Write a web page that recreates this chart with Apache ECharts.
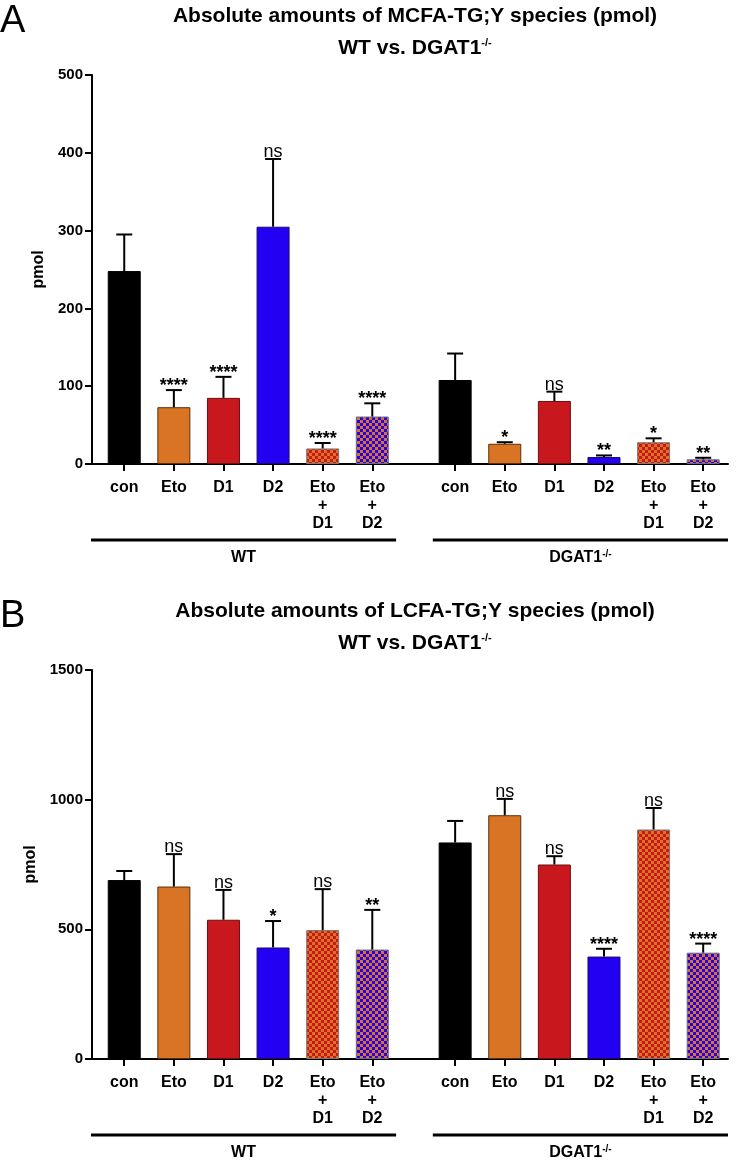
<!DOCTYPE html>
<html><head><meta charset="utf-8">
<script src="https://cdn.jsdelivr.net/npm/echarts@6/dist/echarts.min.js"></script>
<style>html,body{margin:0;padding:0;background:#fff}#c{width:738px;height:1164px}</style>
</head><body><div id="c"></div>
<script>
// ---- data ----
const categories = ['con', 'Eto', 'D1', 'D2', 'Eto\n+\nD1', 'Eto\n+\nD2'];
const groupLabels = ['WT', 'DGAT1'];
// Panel A: MCFA-TG;Y (pmol)
const mcfaWT = [248, 73, 85, 305, 20, 61];
const mcfaWTErr = [295, 95, 112, 392, 27, 78];
const mcfaWTSig = ['', '****', '****', 'ns', '****', '****'];
const mcfaKO = [108, 26, 81, 9, 28, 6];
const mcfaKOErr = [142, 28, 93, 11, 33, 8];
const mcfaKOSig = ['', '*', 'ns', '**', '*', '**'];
// Panel B: LCFA-TG;Y (pmol)
const lcfaWT = [690, 665, 537, 430, 497, 422];
const lcfaWTErr = [725, 790, 652, 532, 655, 575];
const lcfaWTSig = ['', 'ns', 'ns', '*', 'ns', '**'];
const lcfaKO = [835, 940, 750, 395, 885, 410];
const lcfaKOErr = [918, 1003, 782, 425, 968, 445];
const lcfaKOSig = ['', 'ns', 'ns', '****', 'ns', '****'];

// ---- layout ----
const FONT = "'Liberation Sans',Arial,sans-serif";
const G1 = 0.65, G2 = 7.32, XMAX = 12.82;
const pos = [];
categories.forEach((c, i) => pos.push(G1 + i));
categories.forEach((c, i) => pos.push(G2 + i));
const labelFor = v => { let k = 0, d = 1e9; pos.forEach((p, i) => { if (Math.abs(p - v) < d) { d = Math.abs(p - v); k = i; } }); return categories[k % 6]; };

function checker(c1, c2, s) {
  const cv = document.createElement('canvas'); cv.width = cv.height = 2 * s;
  const ctx = cv.getContext('2d');
  ctx.fillStyle = c1; ctx.fillRect(0, 0, 2 * s, 2 * s);
  ctx.fillStyle = c2; ctx.fillRect(s, 0, s, s); ctx.fillRect(0, s, s, s);
  return cv;
}
const ORANGE = '#D87423', RED = '#C8181E', BLUE = '#2400F2';
const fills = ['#000000', ORANGE, RED, BLUE,
  { image: checker(ORANGE, RED, 3), repeat: 'repeat' },
  { image: checker(ORANGE, BLUE, 3), repeat: 'repeat' }];
const borders = ['#000000', '#5a2e0c', '#6a1010', '#1a0a70', '#7a7a7a', '#6a6a8a'];

const grids = [{ left: 92, right: 10, top: 75, height: 389 }, { left: 92, right: 10, top: 670, height: 389 }];

function xAxis(gi) {
  return {
    type: 'value', gridIndex: gi, min: 0, max: XMAX,
    axisLine: { show: true, lineStyle: { color: '#000', width: 2 } },
    axisTick: { show: true, customValues: pos, length: 7, lineStyle: { color: '#000', width: 2 } },
    axisLabel: { customValues: pos, formatter: v => labelFor(v), color: '#000', fontFamily: FONT, fontWeight: 'bold', fontSize: 16, lineHeight: 18, margin: 15 },
    splitLine: { show: false }
  };
}
function yAxis(gi, max, interval) {
  return {
    type: 'value', gridIndex: gi, min: 0, max: max, interval: interval,
    name: 'pmol', nameLocation: 'middle', nameGap: 43, nameRotate: 90,
    nameTextStyle: { color: '#000', fontFamily: FONT, fontWeight: 'bold', fontSize: 16 },
    axisLine: { show: true, lineStyle: { color: '#000', width: 2 } },
    axisTick: { show: true, length: 7, lineStyle: { color: '#000', width: 2 } },
    axisLabel: { color: '#000', fontFamily: FONT, fontWeight: 'bold', fontSize: 15, margin: 9, formatter: v => String(v) },
    splitLine: { show: false }
  };
}

function barSeries(gi, wt, ko) {
  const data = [];
  wt.forEach((v, i) => data.push({ value: [pos[i], v], itemStyle: { color: fills[i], borderColor: borders[i] } }));
  ko.forEach((v, i) => data.push({ value: [pos[6 + i], v], itemStyle: { color: fills[i], borderColor: borders[i] } }));
  return { type: 'bar', xAxisIndex: gi, yAxisIndex: gi, barWidth: 33, itemStyle: { borderWidth: 1 }, data: data, z: 2, silent: true };
}
function errSeries(gi, wt, wtE, wtS, ko, koE, koS) {
  const data = [], sig = [];
  wt.forEach((v, i) => { data.push([pos[i], v, wtE[i]]); sig.push(wtS[i]); });
  ko.forEach((v, i) => { data.push([pos[6 + i], v, koE[i]]); sig.push(koS[i]); });
  return {
    type: 'custom', xAxisIndex: gi, yAxisIndex: gi, z: 3, silent: true, data: data,
    renderItem: (params, api) => {
      const p0 = api.coord([api.value(0), api.value(1)]);
      const p1 = api.coord([api.value(0), api.value(2)]);
      const s = sig[params.dataIndex];
      const isStar = s.indexOf('*') >= 0;
      const children = [
        { type: 'line', shape: { x1: p0[0], y1: p0[1], x2: p1[0], y2: p1[1] }, style: { stroke: '#000', lineWidth: 2 } },
        { type: 'line', shape: { x1: p1[0] - 8, y1: p1[1], x2: p1[0] + 8, y2: p1[1] }, style: { stroke: '#000', lineWidth: 2 } }
      ];
      if (s) children.push({
        type: 'text', style: {
          text: s, x: p1[0], y: isStar ? p1[1] + 5 : p1[1] + 2, align: 'center', verticalAlign: 'bottom',
          fill: '#000', font: isStar ? ('bold 18px ' + FONT) : ('18px ' + FONT)
        }
      });
      return { type: 'group', children: children };
    }
  };
}

const chart = echarts.init(document.getElementById('c'), null, { renderer: 'canvas' });
const supRich = size => ({ sup: { fontSize: size, fontWeight: 'bold', fontFamily: FONT, verticalAlign: 'top', padding: [0, 0, Math.round(size * 0.8), 0], fill: '#000' } });

chart.setOption({
  animation: false,
  backgroundColor: '#fff',
  grid: grids,
  xAxis: [xAxis(0), xAxis(1)],
  yAxis: [yAxis(0, 500, 100), yAxis(1, 1500, 500)],
  series: [
    barSeries(0, mcfaWT, mcfaKO),
    errSeries(0, mcfaWT, mcfaWTErr, mcfaWTSig, mcfaKO, mcfaKOErr, mcfaKOSig),
    barSeries(1, lcfaWT, lcfaKO),
    errSeries(1, lcfaWT, lcfaWTErr, lcfaWTSig, lcfaKO, lcfaKOErr, lcfaKOSig)
  ]
});

// annotations: titles, panel letters, group underlines
const graphics = [];
const titles = ['Absolute amounts of MCFA-TG;Y species (pmol)', 'Absolute amounts of LCFA-TG;Y species (pmol)'];
const letters = ['A', 'B'];
const spans = [[-0.02, 6.13], [6.87, 12.82]];
[0, 1].forEach(gi => {
  const top = grids[gi].top, bottom = top + grids[gi].height;
  graphics.push({ type: 'text', style: { text: letters[gi], x: 0, y: top - 72, font: '38px ' + FONT, fill: '#000', verticalAlign: 'top' } });
  graphics.push({ type: 'text', style: { text: titles[gi], x: 415, y: top - 59, align: 'center', verticalAlign: 'middle', font: 'bold 21px ' + FONT, fill: '#000' } });
  graphics.push({ type: 'text', style: { text: 'WT vs. DGAT1{sup|-/-}', rich: supRich(11), x: 415, y: top - 27, align: 'center', verticalAlign: 'middle', font: 'bold 21px ' + FONT, fill: '#000' } });
  spans.forEach((sp, k) => {
    const a = chart.convertToPixel({ xAxisIndex: gi }, sp[0]);
    const b = chart.convertToPixel({ xAxisIndex: gi }, sp[1]);
    graphics.push({ type: 'line', shape: { x1: a, y1: bottom + 76, x2: b, y2: bottom + 76 }, style: { stroke: '#000', lineWidth: 3 } });
    graphics.push({ type: 'text', style: { text: k === 0 ? groupLabels[0] : groupLabels[1] + '{sup|-/-}', rich: supRich(10), x: (a + b) / 2, y: bottom + 94, align: 'center', verticalAlign: 'middle', font: 'bold 16px ' + FONT, fill: '#000' } });
  });
});
chart.setOption({ graphic: graphics });
</script>
</body></html>
